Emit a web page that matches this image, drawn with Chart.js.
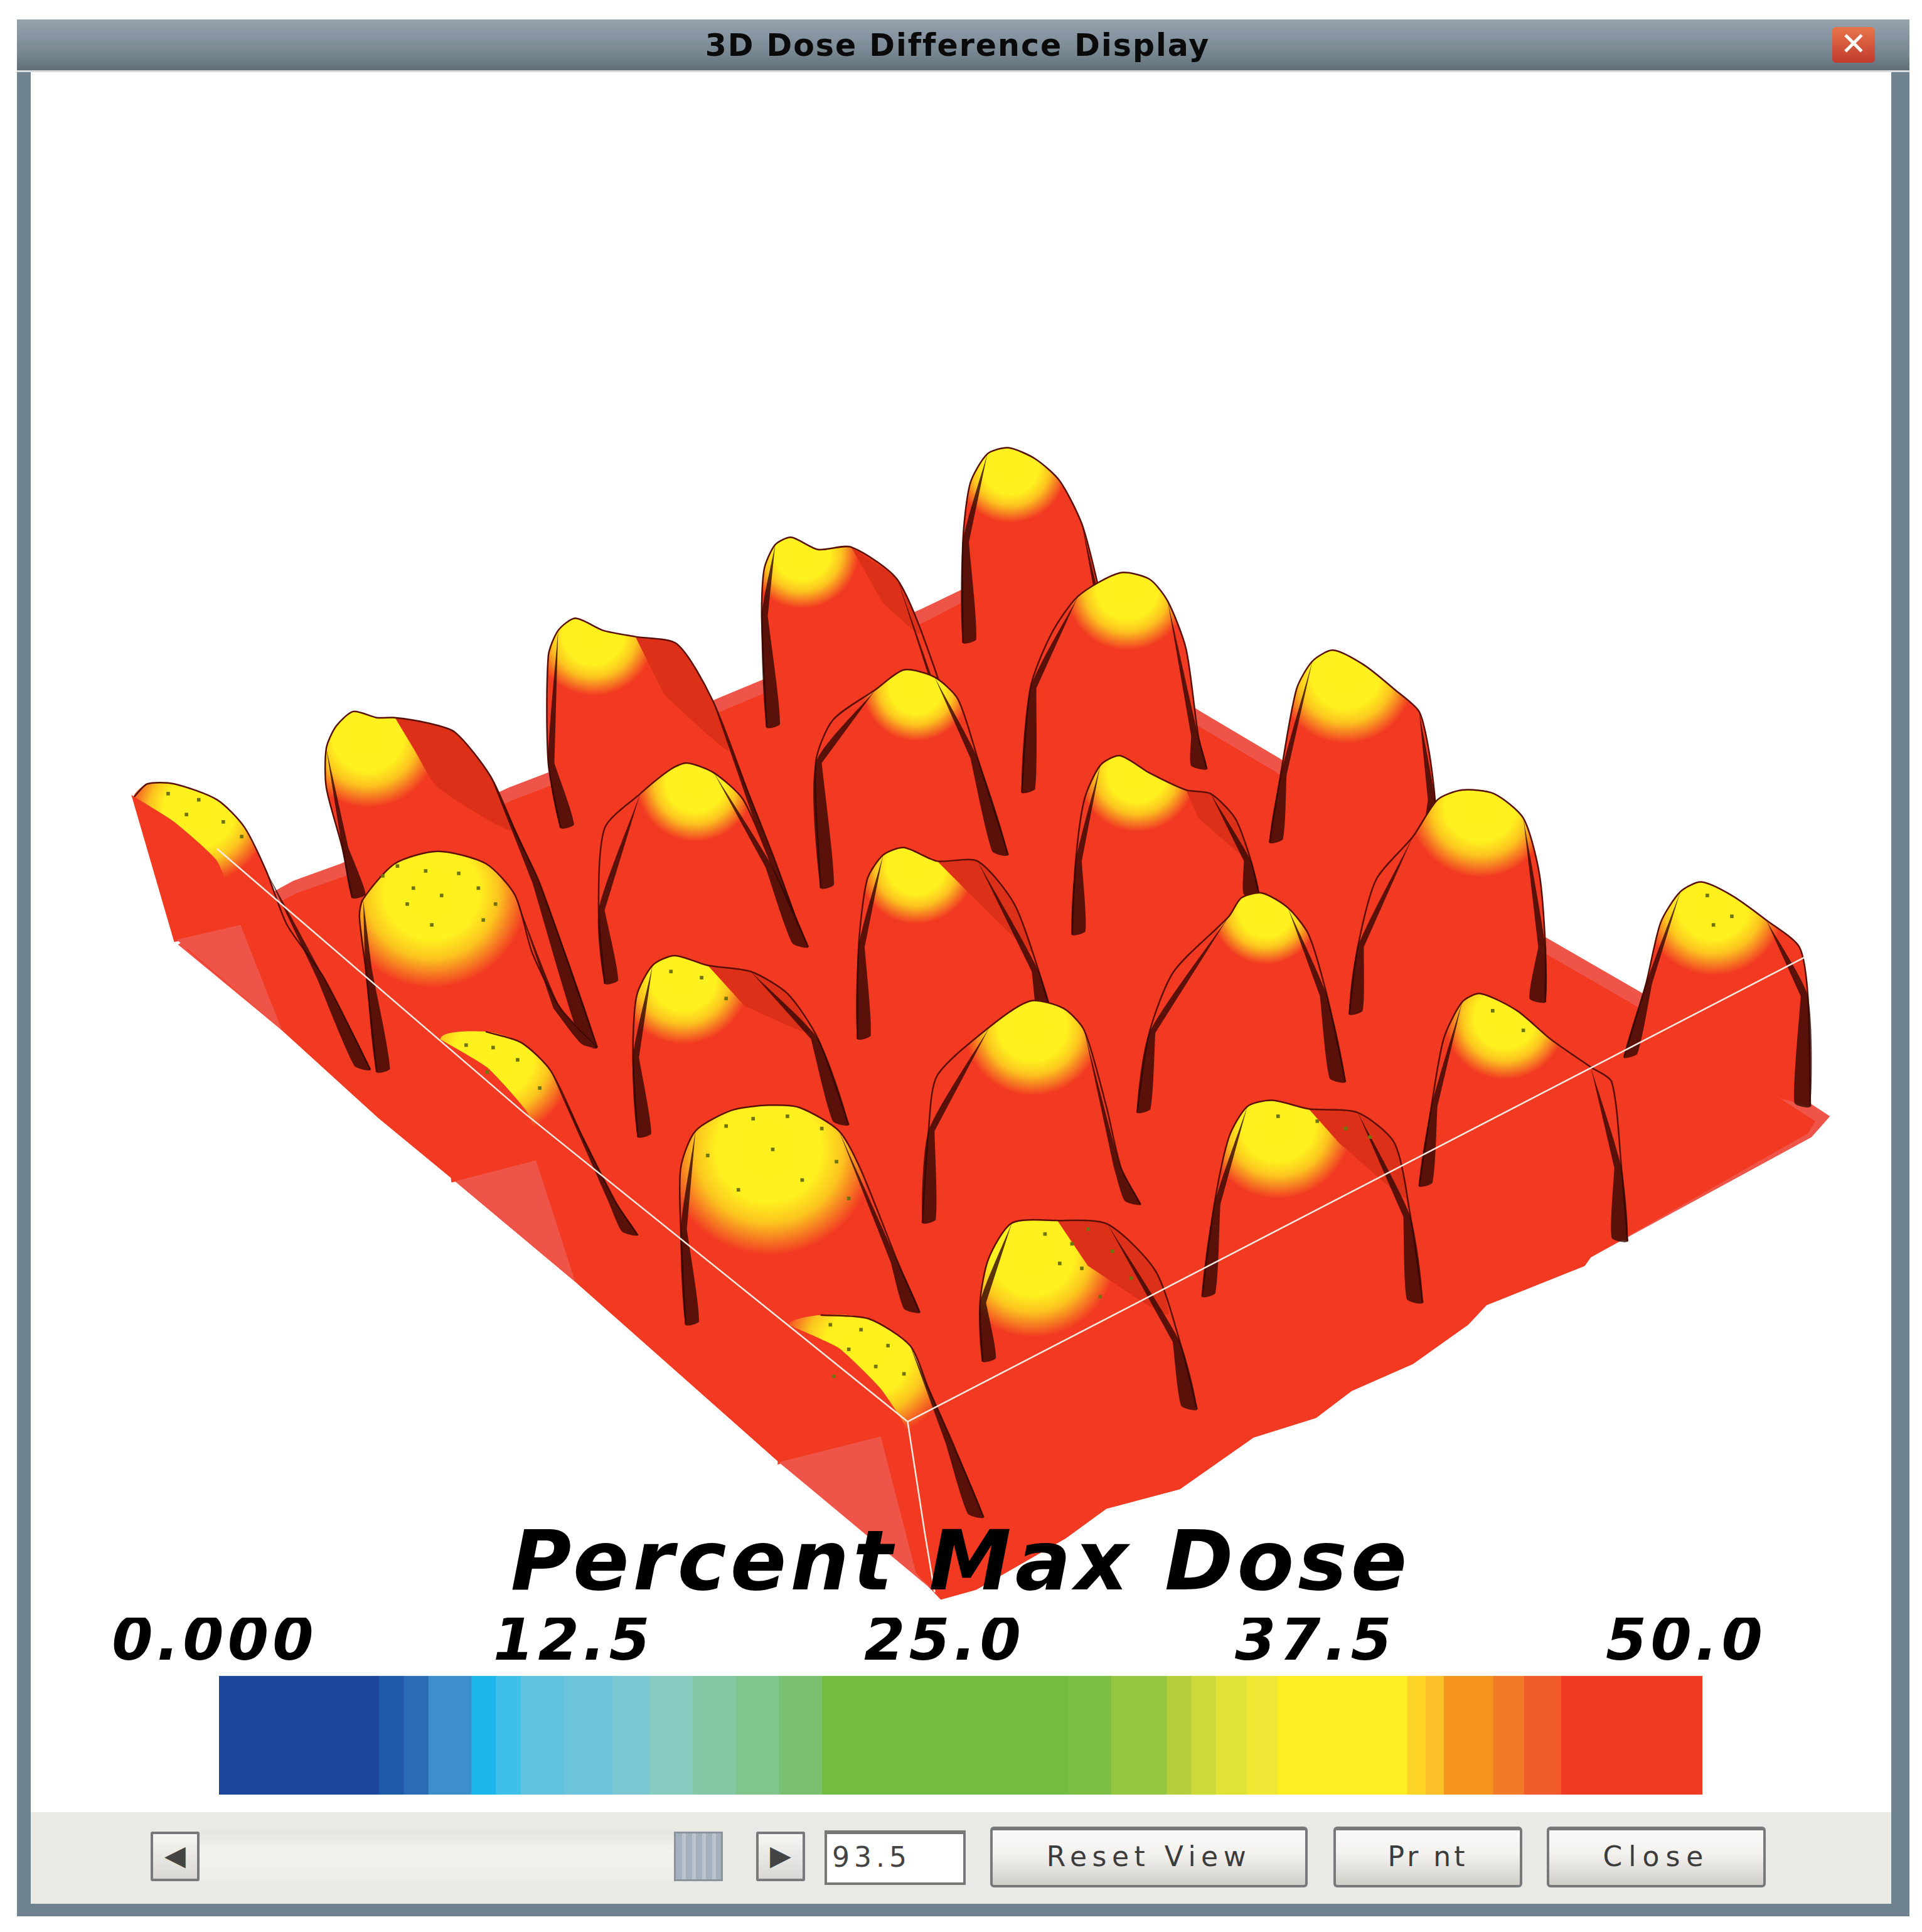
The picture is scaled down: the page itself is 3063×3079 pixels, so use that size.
<!DOCTYPE html>
<html>
<head>
<meta charset="utf-8">
<title>3D Dose Difference Display</title>
<script src="https://cdn.jsdelivr.net/npm/chart.js@4"></script>
<style>
    html, body { margin: 0; padding: 0; background: #fff; }
    #page { position: relative; width: 3063px; height: 3079px; overflow: hidden; background: #fff; font-family: "DejaVu Sans", sans-serif; }
    #page div { position: absolute; box-sizing: border-box; }
    canvas { position: absolute; display: block; }
    #frame { left: 27px; top: 31px; width: 3016px; height: 3023px; background: #6f8290; }
    #inner { left: 49px; top: 115px; width: 2965px; height: 2919px; background: #fff; }
    #titlebar { left: 27px; top: 31px; width: 3016px; height: 84px; border-bottom: 3px solid #d8dcdf;
        background: linear-gradient(#95a3ae, #8594a0 35%, #75858f 70%, #5f6e76); }
    #titletext { left: 27px; top: 31px; width: 2998px; height: 84px; line-height: 84px; text-align: center;
        font-weight: bold; font-size: 49px; letter-spacing: 2px; color: #0a0a0a; }
    #xbtn { left: 2920px; top: 43px; width: 68px; height: 57px; line-height: 54px; text-align: center; border-radius: 6px;
        background: linear-gradient(#e8764a, #c13a2e); color: #fff; font-weight: bold; font-size: 50px; }
    #panel { left: 49px; top: 2888px; width: 2965px; height: 146px; background: #e9e9e5; }
    #track { left: 316px; top: 2919px; width: 758px; height: 79px; background: linear-gradient(#e4e4e0, #f3f2ef 40%, #eeece8); }
    #thumb { left: 1074px; top: 2919px; width: 78px; height: 79px; background: repeating-linear-gradient(90deg, #a4b0bd 0 10px, #bcc5cf 10px 16px); border: 3px solid #8b949c; }
    .arrow { top: 2919px; width: 78px; height: 79px; background: linear-gradient(#f6f6f3, #d9d8d4); border: 4px solid #77797a; border-radius: 3px;
        line-height: 68px; text-align: center; font-size: 44px; color: #444; }
    #numbox { left: 1314px; top: 2917px; width: 225px; height: 87px; background: #fff; border: 4px solid #777; border-top-width: 6px;
        line-height: 74px; padding-left: 8px; font-size: 44px; letter-spacing: 7px; color: #444; }
    .btn { top: 2911px; height: 97px; background: linear-gradient(#fafaf8, #f2f1ee 45%, #cfcec9); border: 4px solid #77797a; border-top-width: 6px; border-radius: 6px;
        line-height: 84px; text-align: center; font-size: 44px; letter-spacing: 5px; color: #3c3c3c; }
    #surface { left: 0; top: 0; }
    #legend { left: 0; top: 2390px; }
</style>
</head>
<body>
<div id="page">
    <div id="frame"></div>
    <div id="inner"></div>
    <div id="titlebar"></div>
    <div id="titletext">3D Dose Difference Display</div>
    <div id="xbtn">&#10005;</div>
    <canvas id="surface" width="3063" height="3079"></canvas>
    <div id="panel"></div>
    <div id="track"></div>
    <div id="thumb"></div>
    <div class="arrow" style="left:240px">&#9664;</div>
    <div class="arrow" style="left:1205px">&#9654;</div>
    <div id="numbox">93.5</div>
    <div class="btn" style="left:1578px;width:506px;letter-spacing:8.5px">Reset View</div>
    <div class="btn" style="left:2125px;width:301px">Pr nt</div>
    <div class="btn" style="left:2465px;width:349px;letter-spacing:10px">Close</div>
    <canvas id="legend" width="3063" height="480"></canvas>
</div>
<script>
// Scale bar
const tickLabels = ['0.000', '12.5', '25.0', '37.5', '50.0'];
const tickValues = [0.4, 12.5, 25, 37.5, 50]; // first label sits a bit right of its stop in the picture
const bandWidths = [5.39, 0.83, 0.83, 1.45, 0.83, 0.83, 1.45, 1.66, 1.25, 1.45, 1.45, 1.45, 1.45, 8.3, 1.45, 1.87, 0.83, 0.83, 1.04, 1.04, 4.36, 0.62, 0.62, 1.66, 1.04, 1.25, 4.77];
const bandColors = ['#1c459c', '#1f5aa8', '#2a6bb4', '#3d8ecc', '#1cb5ec', '#3fc0e8', '#5fc3e0', '#6cc5dc', '#7ac8d2', '#88cbc0', '#85c8a6', '#80c48e', '#79c070', '#74bd43', '#7cbf45', '#95c640', '#b5d03c', '#cdda3a', '#e0e236', '#eee834', '#fcee21', '#fcd425', '#fbbf2a', '#f7941e', '#f27a28', '#f15a2a', '#ee3a23'];

// Surface, scene units (1563 x 1571)
const floorBack = [[143, 768], [237, 716], [276, 702], [413, 640], [452, 625], [584, 567], [620, 552], [750, 494], [800, 470], [977, 578], [1041, 616], [1258, 762], [1336, 807], [1490, 908], [1475, 925], [1295, 1023], [1290, 1030], [1210, 1062], [1195, 1078], [1150, 1110], [1100, 1132], [1071, 1154], [1020, 1170], [960, 1212], [900, 1228], [867, 1252], [794, 1294], [765, 1302], [745, 1281], [633, 1190], [467, 1043], [369, 961], [306, 909], [228, 838]];
const floorTop = [[150, 772], [240, 726], [280, 712], [417, 650], [456, 635], [588, 577], [624, 562], [754, 504], [800, 480], [972, 588], [1036, 626], [1252, 772], [1330, 817], [1478, 912], [1472, 922], [1295, 1023], [1290, 1030], [1210, 1062], [1195, 1078], [1150, 1110], [1100, 1132], [1071, 1154], [1020, 1170], [960, 1212], [900, 1228], [867, 1252], [794, 1294], [765, 1302], [745, 1281], [633, 1190], [467, 1043], [369, 961], [306, 909], [228, 838]];
const lightFaces = [
    [[142, 764], [194, 752], [228, 838]],
    [[369, 961], [435, 944], [467, 1043]],
    [[633, 1190], [716, 1169], [745, 1281], [765, 1300]]
];
const cutFaces = [
    [[105, 646], [140, 668], [175, 700], [192, 752], [140, 766]],
    [[353, 843], [395, 868], [428, 905], [440, 945], [366, 962]],
    [[636, 1076], [682, 1097], [716, 1130], [738, 1165], [718, 1170], [632, 1192]]
];

const peakA = [[142, 764], [125, 700], [107, 648], [118, 637], [140, 637], [175, 650], [197, 672], [215, 708], [232, 752], [262, 795], [300, 870]];
const peakB = [[285, 730], [277, 689], [264, 640], [264, 608], [272, 590], [286, 578], [305, 583], [320, 583], [345, 587], [369, 595], [398, 631], [420, 680], [438, 718], [485, 852]];
const peakC = [[455, 673], [445, 620], [445, 533], [453, 512], [467, 502], [490, 512], [516, 517], [550, 523], [579, 569], [608, 644], [630, 700], [655, 770]];
const peakD = [[623, 591], [619, 500], [621, 462], [630, 442], [643, 436], [665, 446], [692, 444], [730, 471], [760, 543], [790, 640], [815, 695]];
const peakE = [[783, 522], [783, 440], [789, 392], [803, 368], [820, 363], [842, 372], [862, 390], [880, 425], [892, 470], [905, 530], [925, 610]];
const peakF = [[305, 872], [296, 787], [291, 745], [294, 731], [320, 702], [355, 692], [394, 702], [418, 728], [432, 775], [455, 820], [485, 852]];
const peakG = [[491, 800], [486, 740], [491, 673], [520, 645], [545, 625], [558, 620], [580, 628], [604, 650], [628, 705], [657, 770]];
const peakH = [[667, 722], [663, 620], [677, 585], [712, 560], [735, 544], [760, 550], [779, 568], [795, 616], [820, 695]];
const peakI = [[831, 644], [838, 559], [855, 515], [877, 484], [911, 465], [935, 470], [950, 488], [965, 527], [975, 598], [982, 625]];
const peakJ = [[1033, 685], [1042, 630], [1055, 560], [1068, 537], [1085, 528], [1110, 540], [1135, 560], [1155, 578], [1163, 610], [1168, 650], [1170, 700]];
const peakK = [[369, 958], [357, 845], [394, 839], [423, 848], [447, 871], [472, 923], [500, 978], [518, 1005]];
const peakL = [[518, 925], [514, 860], [517, 810], [530, 785], [548, 777], [575, 785], [610, 790], [640, 808], [665, 845], [690, 915]];
const peakM = [[697, 845], [698, 770], [705, 715], [718, 695], [735, 689], [762, 700], [795, 700], [825, 735], [845, 790], [858, 835]];
const peakN = [[872, 760], [875, 700], [882, 650], [895, 622], [911, 614], [935, 628], [965, 642], [985, 645], [1005, 665], [1018, 700], [1025, 730]];
const peakO = [[1098, 825], [1105, 770], [1120, 715], [1150, 680], [1170, 650], [1190, 642], [1216, 645], [1240, 665], [1253, 710], [1258, 770], [1258, 815]];
const peakP = [[640, 1188], [640, 1079], [667, 1070], [706, 1073], [740, 1095], [755, 1130], [775, 1175], [800, 1235]];
const peakQ = [[557, 1078], [553, 1000], [553, 950], [565, 920], [595, 903], [625, 899], [650, 901], [682, 920], [700, 952], [730, 1027], [748, 1068]];
const peakR = [[750, 995], [755, 920], [762, 875], [805, 835], [838, 814], [865, 820], [882, 838], [900, 900], [912, 950], [928, 980]];
const peakS = [[925, 905], [935, 840], [955, 790], [1000, 745], [1010, 730], [1027, 726], [1048, 738], [1065, 760], [1080, 810], [1095, 880]];
const peakT = [[1322, 860], [1340, 800], [1352, 750], [1368, 725], [1385, 717], [1410, 728], [1438, 748], [1465, 770], [1472, 810], [1474, 900]];
const peakU = [[799, 1108], [797, 1060], [804, 1024], [823, 995], [860, 993], [901, 996], [940, 1034], [960, 1092], [974, 1147]];
const peakV = [[978, 1055], [988, 980], [1000, 925], [1015, 900], [1035, 895], [1065, 902], [1105, 905], [1135, 930], [1148, 990], [1158, 1060]];
const peakW = [[1155, 965], [1165, 900], [1175, 845], [1190, 815], [1205, 808], [1235, 822], [1262, 845], [1295, 868], [1312, 880], [1320, 950], [1325, 1010]];

// Back row first, right to left inside a row
const peaks = [peakE, peakD, peakC, peakB, peakA, peakI, peakH, peakG, peakF, peakJ, peakN, peakM, peakL, peakK, peakO, peakS, peakR, peakQ, peakT, peakW, peakV, peakU, peakP];
const cutPeaks = [peakA, peakK, peakP];
const capX = [822, 652, 482, 298, 160, 917, 745, 565, 350, 1095, 925, 745, 555, 400, 1205, 1030, 840, 625, 1395, 1225, 1040, 840, 705];
const capY = [378, 448, 515, 598, 660, 478, 558, 636, 725, 548, 628, 703, 795, 860, 655, 740, 835, 935, 735, 828, 915, 1020, 1100];
const capR = [46, 46, 50, 58, 58, 50, 44, 48, 78, 56, 48, 48, 54, 66, 58, 44, 56, 86, 58, 50, 60, 68, 72];

// Darker part behind the seam on some of the peaks, same order as peaks
const shoulders = [
    null,
    [[692, 444], [730, 471], [748, 515], [718, 490]],
    [[516, 517], [550, 523], [579, 569], [592, 610], [540, 565]],
    [[320, 583], [345, 587], [369, 595], [398, 631], [415, 675], [355, 640], [335, 608]],
    null, null, null, null, null, null,
    [[965, 642], [985, 645], [1005, 665], [1018, 700], [975, 665]],
    [[762, 700], [795, 700], [825, 735], [840, 775], [790, 728]],
    [[575, 785], [610, 790], [640, 808], [658, 840], [605, 818]],
    null, null, null, null, null, null, null,
    [[1065, 902], [1105, 905], [1135, 930], [1145, 975], [1090, 930]],
    [[860, 993], [901, 996], [940, 1034], [950, 1070], [885, 1030]],
    null
];

// Dark flecks on the tops of the yellow caps
const speckX = [310, 322, 335, 345, 372, 388, 402, 330, 358, 392, 350, 590, 612, 640, 668, 680, 575, 628, 652, 690, 600, 850, 872, 885, 905, 920, 880, 862, 895, 675, 700, 722, 690, 712, 735, 678, 378, 400, 420, 395, 438, 135, 160, 180, 195, 150, 1040, 1072, 1095, 1115, 1390, 1410, 1395, 1215, 1240, 545, 570, 590];
const speckY = [712, 704, 722, 708, 710, 722, 735, 735, 728, 748, 752, 916, 910, 908, 918, 945, 940, 935, 960, 975, 968, 1004, 1012, 1000, 1018, 1040, 1032, 1028, 1055, 1078, 1082, 1095, 1098, 1112, 1118, 1120, 850, 852, 862, 872, 885, 645, 650, 668, 680, 662, 908, 912, 918, 925, 728, 745, 752, 822, 838, 790, 795, 812];

const wireLeft = [[175, 690], [425, 905], [640, 1078], [738, 1157]];
const wireRight = [[738, 1157], [1470, 778]];
const wireDown = [[738, 1157], [752, 1248], [760, 1296]];

const redBody = '#f23a22';

function toPoints(arr) {
    return arr.map(p => ({ x: p[0], y: p[1] }));
}

function shape(arr, color, extra = {}) {
    return Object.assign({ data: toPoints(arr), showLine: true, fill: 'shape', backgroundColor: color, borderWidth: 0, pointRadius: 0, tension: 0 }, extra);
}

function stroke(arr, color, width, extra = {}) {
    return Object.assign({ data: toPoints(arr), showLine: true, fill: false, borderColor: color, borderWidth: width, pointRadius: 0, tension: 0.25 }, extra);
}

// Dark wedge hugging the end of an outline, widest where the peak meets the floor
function crease(end, mid, tip, width) {
    return [tip, mid, end, [end[0] + width, end[1] - 3], [mid[0] + width * 0.45, mid[1]]];
}

// Yellow top of a peak, clipped by the peak outline since it is the outline's own fill
function capFill(chart, i) {
    const cx = chart.scales.x.getPixelForValue(capX[i]);
    const cy = chart.scales.y.getPixelForValue(capY[i]);
    const r = chart.scales.x.getPixelForValue(capR[i]) - chart.scales.x.getPixelForValue(0);
    const g = chart.ctx.createRadialGradient(cx, cy, 0, cx, cy, r);
    g.addColorStop(0, '#fff11e');
    g.addColorStop(0.5, '#fff01f');
    g.addColorStop(0.7, '#fcc41f');
    g.addColorStop(0.86, '#f67a22');
    g.addColorStop(1, redBody);
    return g;
}

// Built back to front, reversed at the end because Chart.js paints the first dataset last
const layers = [];
layers.push(shape(floorBack, '#ef5448'));
layers.push(shape(floorTop, redBody));

peaks.forEach((peak, i) => {
    const isCut = cutPeaks.includes(peak);
    const n = peak.length;
    layers.push(shape(peak, redBody, { tension: 0.25, capIndex: i }));
    if (shoulders[i]) {
        layers.push(shape(shoulders[i], '#dd3019', { tension: 0.2 }));
    }
    layers.push(stroke(isCut ? peak.slice(2) : peak, '#5a0f06', 2.5));
    if (!isCut) {
        layers.push(shape(crease(peak[0], peak[1], peak[3], 11), 'rgba(50, 8, 4, 0.8)', { tension: 0.2 }));
    }
    layers.push(shape(crease(peak[n - 1], peak[n - 2], peak[n - 4], -13), 'rgba(50, 8, 4, 0.8)', { tension: 0.2 }));
});

cutFaces.forEach(face => layers.push(shape(face, redBody, { tension: 0.15 })));
lightFaces.forEach(face => layers.push(shape(face, '#ef5448')));

layers.push({
    data: speckX.map((x, i) => ({ x: x, y: speckY[i] })),
    showLine: false,
    pointRadius: 4,
    pointStyle: 'rect',
    pointBackgroundColor: '#6f7410',
    pointBorderWidth: 0
});

layers.push(stroke(wireLeft, '#f6ece4', 2.5, { tension: 0 }));
layers.push(stroke(wireRight, '#f6ece4', 2.5, { tension: 0 }));
layers.push(stroke(wireDown, '#f6ece4', 2.5, { tension: 0 }));

const surfaceChart = new Chart(document.getElementById('surface'), {
    type: 'scatter',
    data: { datasets: layers.reverse() },
    options: {
        responsive: false,
        animation: false,
        devicePixelRatio: 1,
        plugins: { legend: { display: false }, tooltip: { enabled: false } },
        scales: {
            x: { display: false, min: 0, max: 1563 },
            y: { display: false, min: 0, max: 1571, reverse: true }
        }
    }
});

// Gradients need the scales, so they go on once the first layout is done
surfaceChart.data.datasets.forEach(ds => {
    if (ds.capIndex !== undefined) ds.backgroundColor = capFill(surfaceChart, ds.capIndex);
});
surfaceChart.update();

// The original lettering is wider than anything installed
const wideText = {
    id: 'wideText',
    beforeDraw(chart) { chart.ctx.letterSpacing = '6px'; }
};

new Chart(document.getElementById('legend'), {
    type: 'bar',
    data: {
        labels: ['dose'],
        datasets: bandWidths.map((w, i) => ({
            data: [w],
            backgroundColor: bandColors[i],
            borderWidth: 0,
            barPercentage: 1,
            categoryPercentage: 1,
            stack: 'scale'
        }))
    },
    plugins: [wideText],
    options: {
        indexAxis: 'y',
        responsive: false,
        animation: false,
        devicePixelRatio: 1,
        layout: { padding: { left: 349, right: 350, top: 30, bottom: 10 } },
        plugins: {
            legend: { display: false },
            tooltip: { enabled: false },
            title: {
                display: true,
                text: 'Percent Max Dose',
                color: '#000',
                font: { family: '"DejaVu Sans"', size: 132, weight: 'bold', style: 'italic', lineHeight: 1.0 },
                padding: { top: 13, bottom: 13 }
            }
        },
        scales: {
            x: {
                position: 'top',
                stacked: true,
                min: 0,
                max: 50,
                grid: { display: false },
                border: { display: false },
                afterBuildTicks: (scale) => { scale.ticks = tickValues.map(v => ({ value: v })); },
                ticks: {
                    callback: (value, index) => tickLabels[index],
                    color: '#000',
                    autoSkip: false,
                    maxRotation: 0,
                    labelOffset: -26,
                    padding: -14,
                    font: { family: '"DejaVu Sans"', size: 94, weight: 'bold', style: 'italic' }
                }
            },
            y: { display: false, stacked: true }
        }
    }
});
</script>
</body>
</html>
